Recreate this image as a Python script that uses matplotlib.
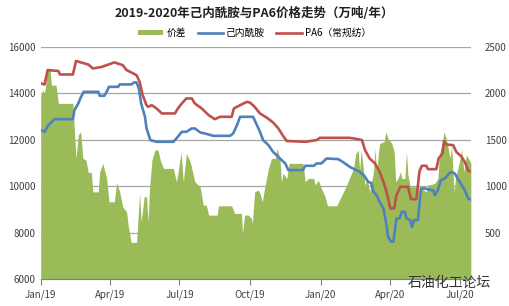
import pandas as pd
import matplotlib
matplotlib.use('Agg')
import matplotlib.pyplot as plt
import matplotlib.dates as mdates
from matplotlib.patches import Patch
from matplotlib.lines import Line2D

plt.rcParams['font.family'] = ['Noto Sans CJK SC', 'DejaVu Sans']

START = pd.Timestamp('2019-01-01')

# PA6 (常规纺), 元/吨 -- day offset from 2019-01-01
pa6_days = [0, 5, 9, 23, 25, 42, 46, 62, 68, 79, 96, 107, 112, 118, 125, 129, 133, 138,
            140, 145, 151, 158, 175, 179, 184, 190, 197, 201, 210, 219, 227, 234, 249, 252,
            260, 269, 273, 279, 286, 295, 303, 310, 316, 321, 345, 360, 364, 403, 412,
            419, 423, 429, 436, 442, 447, 451, 456, 461, 464, 469, 479, 483, 490, 494, 497,
            503, 505, 516, 519, 524, 526, 529, 538, 542, 549, 553, 558, 561]
pa6_vals = [14430, 14380, 15000, 14960, 14810, 14810, 15390, 15240, 15070, 15130, 15330,
            15210, 15000, 14900, 14780, 14500, 13920, 13490, 13420, 13490, 13350, 13135,
            13135, 13350, 13565, 13780, 13780, 13565, 13350, 13063, 12890, 12990, 12990,
            13350, 13490, 13635, 13600, 13420, 13135, 12950, 12750, 12490, 12173, 11950,
            11915, 11990, 12087, 12087, 12040, 11990, 11558, 11200, 10985, 10625, 10195,
            9765, 9052, 9052, 9624, 9980, 9980, 9450, 9450, 10625, 10884, 10884, 10740,
            10740, 11200, 11415, 11945, 11800, 11773, 11486, 11270, 11055, 10655, 10655]

# 己内酰胺, 元/吨
cpl_days = [0, 5, 10, 14, 18, 42, 44, 49, 52, 56, 75, 77, 83, 86, 89, 101, 103, 118, 122,
            125, 128, 131, 136, 138, 143, 151, 173, 177, 184, 190, 197, 201, 208, 214, 225,
            247, 251, 256, 260, 277, 282, 286, 290, 297, 303, 312, 319, 323, 342, 345, 356,
            360, 366, 373, 388, 395, 403, 410, 416, 422, 427, 431, 434, 438, 442, 447, 451,
            453, 457, 460, 462, 464, 468, 471, 475, 477, 482, 484, 487, 492, 496, 501, 509,
            512, 514, 518, 522, 527, 534, 537, 540, 545, 549, 553, 558, 561]
cpl_vals = [12420, 12345, 12633, 12750, 12890, 12890, 13278, 13565, 13807, 14065, 14065,
            13895, 13895, 14065, 14280, 14280, 14383, 14383, 14469, 14469, 14210, 13565,
            12990, 12490, 11988, 11915, 11915, 12060, 12345, 12345, 12490, 12490, 12320,
            12276, 12173, 12173, 12276, 12633, 12990, 12990, 12633, 12345, 11988, 11773,
            11486, 11200, 10985, 10700, 10700, 10884, 10884, 10985, 10985, 11200, 11170,
            11030, 10840, 10720, 10625, 10455, 10195, 10150, 9765, 9624, 9335, 9052, 8335,
            7830, 7616, 7616, 8120, 8620, 8620, 8905, 8905, 8620, 8550, 8260, 8550, 8550,
            9911, 9911, 9840, 9840, 9624, 9840, 10270, 10340, 10600, 10600, 10555, 10270,
            10055, 9840, 9450, 9450]

# 价差, 元/吨 (right axis)
gap_days = [0, 3, 5, 9, 12, 14, 20, 23, 42, 43, 46, 49, 52, 55, 59, 62, 66, 68, 75, 77,
            81, 86, 89, 96, 99, 103, 107, 112, 114, 118, 125, 129, 131, 135, 138, 140, 142,
            145, 149, 153, 156, 160, 173, 177, 179, 183, 186, 190, 195, 201, 208, 212, 216,
            219, 230, 232, 249, 253, 262, 263, 266, 271, 275, 276, 279, 284, 286, 289, 292,
            297, 301, 306, 308, 312, 314, 316, 321, 324, 342, 345, 349, 356, 358, 362, 366,
            371, 374, 386, 399, 408, 411, 414, 416, 418, 420, 423, 426, 429, 434, 436, 438,
            440, 442, 448, 450, 453, 458, 461, 463, 466, 469, 471, 475, 477, 479, 482, 490,
            492, 494, 497, 503, 505, 514, 518, 520, 524, 526, 529, 534, 536, 539, 541, 545,
            548, 549, 552, 555, 558, 561]
gap_vals = [1981, 2035, 2000, 2268, 2268, 2088, 2088, 1892, 1892, 1730, 1300, 1551, 1587,
            1300, 1282, 1150, 1150, 941, 941, 1156, 1247, 1085, 834, 834, 1042, 941, 780,
            726, 583, 397, 397, 924, 619, 888, 888, 620, 980, 1282, 1390, 1390, 1282, 1193,
            1193, 1049, 1140, 1371, 1049, 1354, 1264, 1049, 995, 798, 798, 691, 691, 791,
            791, 709, 709, 494, 691, 691, 655, 600, 941, 960, 924, 834, 978, 1193, 1300,
            1300, 1408, 1300, 1049, 1140, 1085, 1247, 1247, 1049, 1085, 1085, 1013, 1067,
            978, 888, 791, 791, 1013, 1193, 1354, 1390, 1175, 1390, 1247, 1013, 1085, 941,
            1156, 1408, 1156, 1318, 1461, 1480, 1586, 1515, 1461, 1371, 1049, 1085, 1156,
            1085, 1085, 1371, 1120, 995, 995, 1228, 798, 978, 941, 1013, 1031, 1085, 1336,
            1480, 1586, 1515, 1300, 1444, 941, 1085, 1228, 1336, 1408, 1156, 1336, 1300,
            1250]

tick_days = [0, 90, 181, 273, 365, 456, 547]
tick_labels = ['Jan/19', 'Apr/19', 'Jul/19', 'Oct/19', 'Jan/20', 'Apr/20', 'Jul/20']

GREEN = '#9BBB59'
BLUE = '#4F81BD'
RED = '#C0504D'


def to_dates(days):
    return START + pd.to_timedelta(days, unit='D')


fig = plt.figure(figsize=(5.09, 3.06), dpi=100)
ax = fig.add_axes([0.08, 0.087, 0.845, 0.76])
ax2 = ax.twinx()

# area on the secondary axis, drawn beneath the price lines
ax2.fill_between(to_dates(gap_days), 0, gap_vals, color=GREEN, linewidth=0, zorder=2)
ax2.set_ylim(0, 2500)
ax2.set_yticks([500, 1000, 1500, 2000, 2500])
ax2.yaxis.grid(True, color='#A6A6A6', linewidth=0.9, zorder=0)
ax2.set_axisbelow(True)

ax.plot(to_dates(cpl_days), cpl_vals, color=BLUE, linewidth=1.9)
ax.plot(to_dates(pa6_days), pa6_vals, color=RED, linewidth=1.9)
ax.set_ylim(6000, 16000)
ax.set_yticks([6000, 8000, 10000, 12000, 14000, 16000])
ax.set_zorder(ax2.get_zorder() + 1)
ax.patch.set_visible(False)

ax.set_xlim(START, to_dates([561])[0])
ax.set_xticks(to_dates(tick_days))
ax.set_xticklabels(tick_labels)

for a in (ax, ax2):
    for side in ('top', 'left', 'right'):
        a.spines[side].set_visible(False)
    a.spines['bottom'].set_color('#808080')
    a.tick_params(axis='y', length=0, labelsize=7, colors='#404040')
ax.tick_params(axis='y', pad=4)
ax2.tick_params(axis='y', pad=10)
ax.tick_params(axis='x', length=4, color='#808080', labelsize=7, colors='#404040', pad=3)
for lab in ax.get_yticklabels() + ax2.get_yticklabels() + ax.get_xticklabels():
    lab.set_color('#404040')

fig.text(0.5, 0.955, '2019-2020年己内酰胺与PA6价格走势（万吨/年）', ha='center', va='center',
         fontsize=9, fontweight='bold', color='#202020')

handles = [Patch(facecolor=GREEN, edgecolor='none'),
           Line2D([], [], color=BLUE, linewidth=1.9),
           Line2D([], [], color=RED, linewidth=1.9)]
fig.legend(handles, ['价差', '己内酰胺', 'PA6（常规纺）'], loc='center', ncol=3,
           bbox_to_anchor=(0.5, 0.893), frameon=False, fontsize=7, handlelength=2.6,
           handleheight=0.5, columnspacing=1.2, handletextpad=0.3)

fig.text(0.965, 0.075, '石油化工论坛', ha='right', va='center', fontsize=10, color='#333333')

fig.savefig('out.png', dpi=100)
